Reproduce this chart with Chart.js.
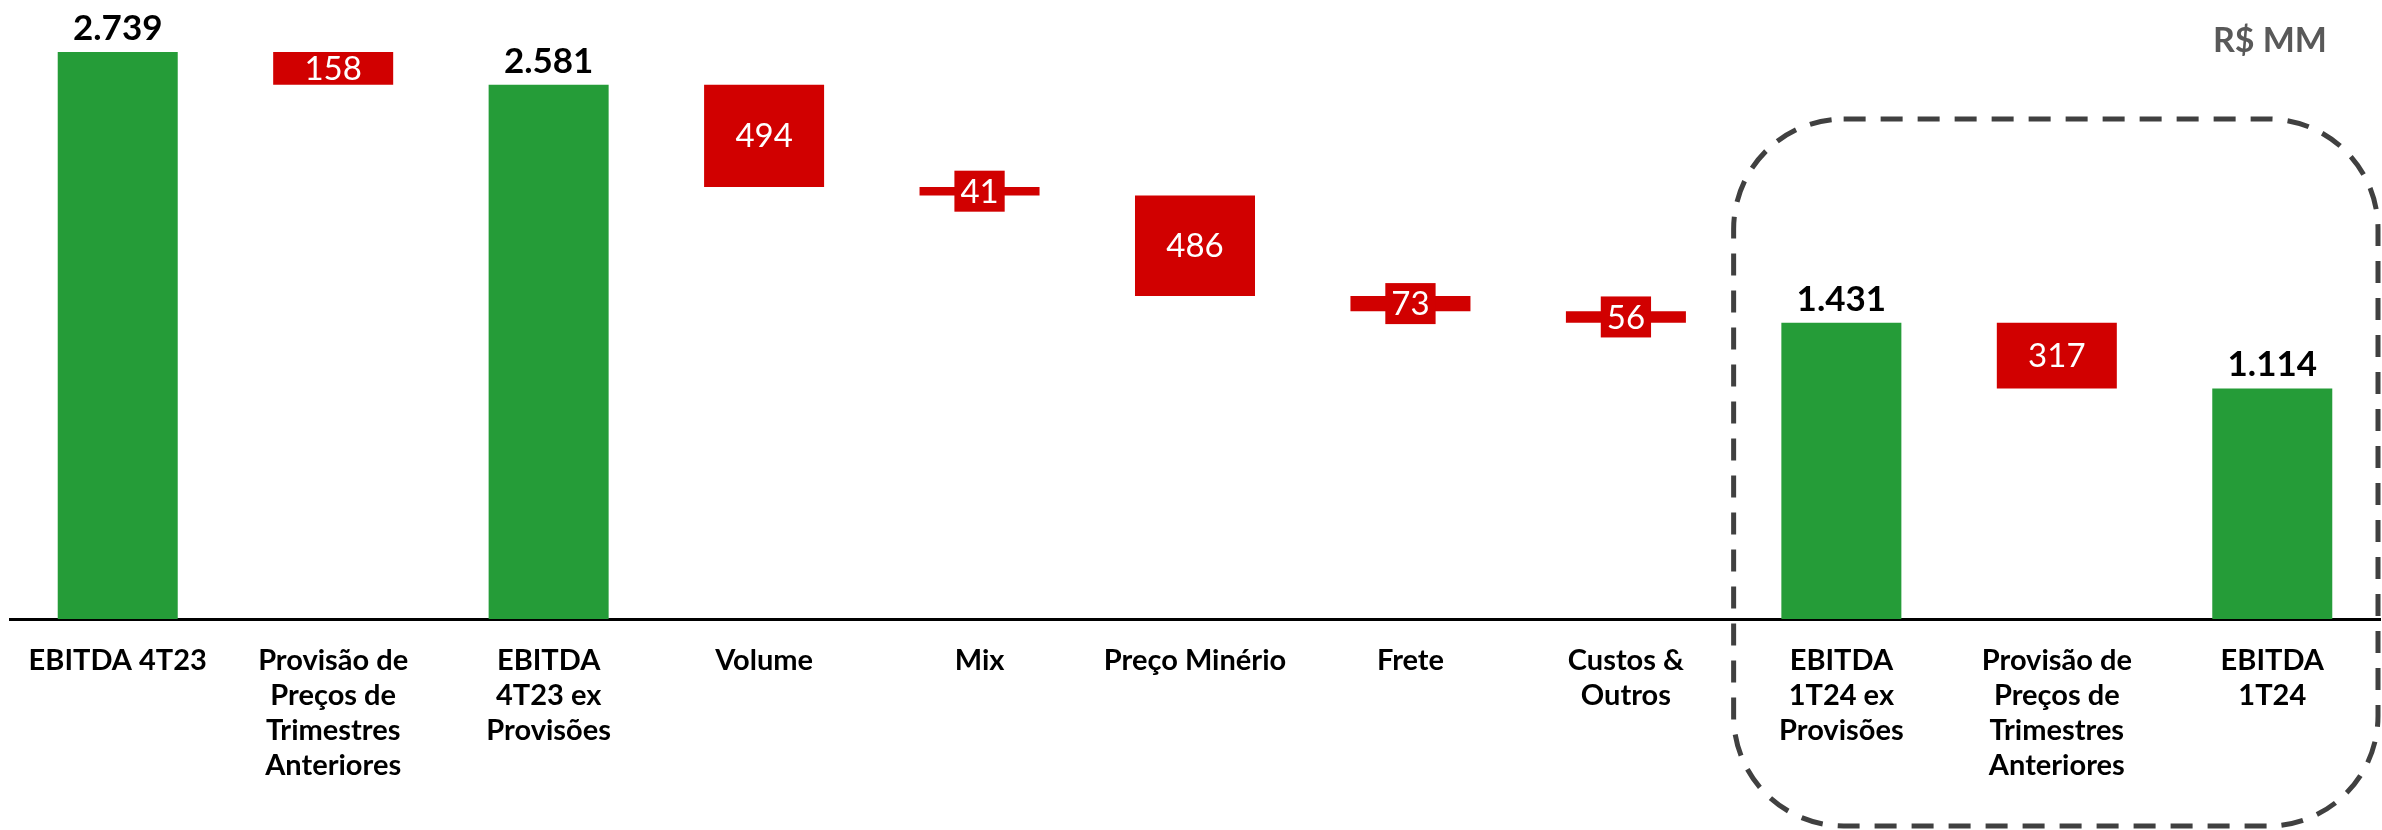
<!DOCTYPE html>
<html>
<head>
<meta charset="utf-8">
<script src="https://cdn.jsdelivr.net/npm/chart.js@4.4.1/dist/chart.umd.min.js"></script>
<style>
  html, body { margin: 0; padding: 0; background: #fff; }
  canvas { display: block; }
</style>
</head>
<body>
<canvas id="canvas" width="2382" height="830"></canvas>
<script>
// EBITDA bridge, R$ MM
const categories = [
  ['EBITDA 4T23'],
  ['Provisão de', 'Preços de', 'Trimestres', 'Anteriores'],
  ['EBITDA', '4T23 ex', 'Provisões'],
  ['Volume'],
  ['Mix'],
  ['Preço Minério'],
  ['Frete'],
  ['Custos &', 'Outros'],
  ['EBITDA', '1T24 ex', 'Provisões'],
  ['Provisão de', 'Preços de', 'Trimestres', 'Anteriores'],
  ['EBITDA', '1T24']
];
const values = [2739, -158, 2581, -494, -41, -486, -73, -56, 1431, -317, 1114];
const isTotal = [true, false, true, false, false, false, false, false, true, false, true];

const green = '#259C38';
const red = '#D10000';
const font = 'Lato';

// floating ranges for the waterfall
let running = 0;
const ranges = values.map(function (v, i) {
  if (isTotal[i]) {
    running = v;
    return [0, v];
  }
  const start = running;
  running = running + v;
  return [start, running];
});

function fmt(v) {
  return Math.abs(v).toLocaleString('pt-BR');
}

const barLabels = {
  id: 'barLabels',
  afterDatasetsDraw(chart) {
    const ctx = chart.ctx;
    const meta = chart.getDatasetMeta(0);
    ctx.save();
    ctx.textAlign = 'center';
    meta.data.forEach(function (bar, i) {
      if (isTotal[i]) {
        ctx.font = 'bold 35px ' + font;
        ctx.fillStyle = '#000';
        ctx.textBaseline = 'alphabetic';
        ctx.fillText(fmt(values[i]), bar.x, bar.y - 12);
      } else {
        const top = Math.min(bar.y, bar.base);
        const bot = Math.max(bar.y, bar.base);
        const cy = (top + bot) / 2;
        ctx.font = '33px ' + font;
        const txt = fmt(values[i]);
        if (bot - top < 30) {
          const w = ctx.measureText(txt).width + 12;
          ctx.fillStyle = red;
          ctx.fillRect(bar.x - w / 2, cy - 20.5, w, 41);
        }
        ctx.fillStyle = '#fff';
        ctx.textBaseline = 'middle';
        ctx.fillText(txt, bar.x, cy + 1);
      }
    });
    ctx.restore();
  }
};

// dashed frame around the 1T24 group and the unit tag
const frame = {
  id: 'frame',
  afterDraw(chart) {
    const ctx = chart.ctx;
    const x = chart.scales.x;
    const half = (x.getPixelForValue(1) - x.getPixelForValue(0)) / 2;
    const left = x.getPixelForValue(8) - half;
    const right = x.getPixelForValue(10) + half - 2;
    const top = 119;
    const bottom = chart.height - 4;
    ctx.save();
    ctx.strokeStyle = '#404040';
    ctx.lineWidth = 5;
    ctx.setLineDash([22, 15]);
    ctx.beginPath();
    ctx.roundRect(left, top, right - left, bottom - top, 110);
    ctx.stroke();
    ctx.restore();

    ctx.save();
    ctx.font = 'bold 34px ' + font;
    ctx.fillStyle = '#595959';
    ctx.textAlign = 'right';
    ctx.textBaseline = 'alphabetic';
    ctx.fillText('R$ MM', 2327, 52);
    ctx.restore();
  }
};

const ctx = document.getElementById('canvas').getContext('2d');
const myChart = new Chart(ctx, {
  type: 'bar',
  data: {
    labels: categories,
    datasets: [{
      data: ranges,
      backgroundColor: isTotal.map(function (t) { return t ? green : red; }),
      borderWidth: 0,
      categoryPercentage: 1,
      barPercentage: 0.557
    }]
  },
  options: {
    responsive: false,
    devicePixelRatio: 1,
    animation: false,
    layout: { padding: { left: 10, right: 2, top: 0, bottom: 0 } },
    plugins: {
      legend: { display: false },
      tooltip: { enabled: false }
    },
    scales: {
      y: {
        display: false,
        min: 0,
        max: 2990
      },
      x: {
        grid: { display: false },
        border: { display: true, color: '#000', width: 3 },
        ticks: {
          color: '#000',
          padding: 16,
          maxRotation: 0,
          autoSkip: false,
          font: { family: font, weight: 'bold', size: 29, lineHeight: 35 / 29 }
        },
        afterFit: function (scale) { scale.height = 211; }
      }
    }
  },
  plugins: [barLabels, frame]
});
</script>
</body>
</html>
